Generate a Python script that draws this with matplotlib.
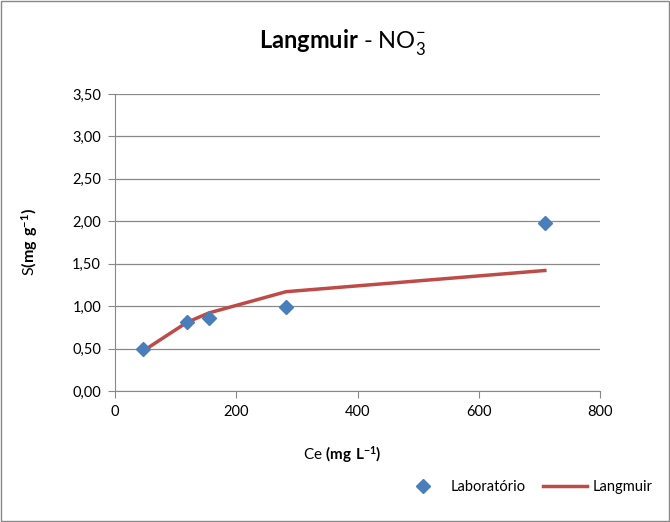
import matplotlib
matplotlib.use("Agg")
import matplotlib.pyplot as plt
from matplotlib.patches import Rectangle
from matplotlib.ticker import FuncFormatter

plt.rcParams['font.family'] = ['Lato', 'DejaVu Sans']
plt.rcParams['mathtext.fontset'] = 'custom'
plt.rcParams['mathtext.rm'] = 'Lato'
plt.rcParams['mathtext.bf'] = 'Lato:bold'

# data
ce_lab = [46, 119, 155, 282, 709]
s_lab = [0.49, 0.81, 0.86, 0.99, 1.98]
ce_fit = [46, 119, 155, 282, 709]
s_fit = [0.47, 0.81, 0.92, 1.17, 1.42]
yticks = [0, 0.5, 1.0, 1.5, 2.0, 2.5, 3.0, 3.5]
xticks = [0, 200, 400, 600, 800]

fig = plt.figure(figsize=(6.7, 5.22), dpi=100)
ax = fig.add_axes([115/670, 1-391/522, 485/670, 297/522])

ax.plot(ce_lab, s_lab, linestyle='none', marker='D', markersize=7,
        color='#4a7ebb', label='Laboratório', zorder=3)
ax.plot(ce_fit, s_fit, color='#be4b48', linewidth=2.5, label='Langmuir', zorder=2)

ax.set_xlim(0, 800)
ax.set_ylim(0, 3.5)
ax.set_xticks(xticks)
ax.set_yticks(yticks)
ax.yaxis.set_major_formatter(FuncFormatter(lambda v, p: f"{v:.2f}".replace('.', ',')))
ax.grid(axis='y', color='#888888', linewidth=0.9)
ax.set_axisbelow(True)
for s in ['top', 'right']:
    ax.spines[s].set_visible(False)
for s in ['left', 'bottom']:
    ax.spines[s].set_color('#888888')
ax.tick_params(direction='out', length=5, color='#888888', labelsize=10.5, pad=5)

fig.text(342/670, 1-42/522, r"$\mathbf{Langmuir}$ - NO$_3^{-}$", ha='center', va='center', fontsize=17)
fig.text(30/670, 1-242/522, r"S$\mathbf{(mg\ g^{-1})}$", rotation=90, ha='center', va='center', fontsize=11.5)
fig.text(342/670, 1-455/522, r"Ce $\mathbf{(mg\ L^{-1})}$", ha='center', va='center', fontsize=11)

fig.legend(loc='center', bbox_to_anchor=(527/670, 1-487/522), ncol=2, frameon=False,
           fontsize=10.5, handlelength=3, columnspacing=1.2, handletextpad=0.4)

fig.patches.append(Rectangle((0.002, 0.002), 0.996, 0.996, transform=fig.transFigure,
                             fill=False, edgecolor='#888888', linewidth=1))

fig.savefig('out.png', dpi=100)
